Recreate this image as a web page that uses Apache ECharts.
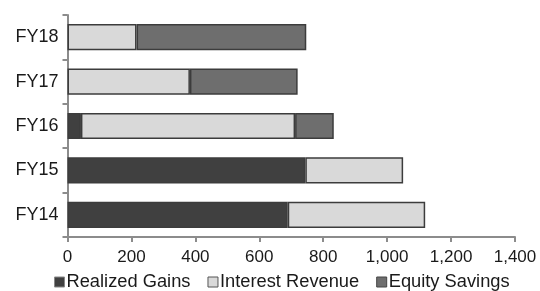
<!DOCTYPE html>
<html>
<head>
<meta charset="utf-8">
<script src="https://cdn.jsdelivr.net/npm/echarts@6/dist/echarts.min.js"></script>
<style>
    html, body { margin: 0; padding: 0; background: #fff; }
    #chart { width: 540px; height: 291px; }
</style>
</head>
<body>
<div id="chart"></div>
<script>
const categories = ['FY14', 'FY15', 'FY16', 'FY17', 'FY18'];
// null = no segment for that year
const realizedGains = [689, 744, 42, null, null];
const interestRevenue = [430, 306, 670, 383, 216];
const equitySavings = [null, null, 121, 337, 531];

const chart = echarts.init(document.getElementById('chart'));

function barSeries(name, data, color) {
    return {
        name: name,
        type: 'bar',
        stack: 'total',
        barCategoryGap: '41%',
        data: data,
        itemStyle: { color: color, borderColor: '#3c3c3c', borderWidth: 1.5 }
    };
}

chart.setOption({
    animation: false,
    textStyle: { fontFamily: 'Liberation Sans, Arial, sans-serif' },
    grid: { left: 67.5, right: 25, top: 15, bottom: 54, containLabel: false },
    legend: {
        top: 273,
        left: 54,
        padding: 0,
        icon: 'rect',
        itemWidth: 10,
        itemHeight: 10,
        itemGap: 17,
        textStyle: { fontSize: 18.3, color: '#1a1a1a', padding: [0, 0, 0, -3] },
        data: [
            { name: 'Realized Gains', itemStyle: { borderColor: '#888', borderWidth: 1 } },
            { name: 'Interest Revenue', itemStyle: { borderColor: '#555', borderWidth: 1 } },
            { name: 'Equity Savings', itemStyle: { borderColor: '#444', borderWidth: 1 } }
        ]
    },
    xAxis: {
        type: 'value',
        min: 0,
        max: 1400,
        interval: 200,
        splitLine: { show: false },
        axisLine: { show: true, lineStyle: { color: '#8c8c8c', width: 2 } },
        axisTick: { show: true, length: 5, lineStyle: { color: '#8c8c8c', width: 2 } },
        axisLabel: {
            fontSize: 17,
            color: '#1a1a1a',
            margin: 12,
            formatter: v => v.toLocaleString('en-US')
        }
    },
    yAxis: {
        type: 'category',
        data: categories,
        axisLine: { show: true, lineStyle: { color: '#8c8c8c', width: 2 } },
        axisTick: { show: true, length: 5, lineStyle: { color: '#8c8c8c', width: 2 } },
        axisLabel: { fontSize: 18, color: '#1a1a1a', margin: 9 }
    },
    series: [
        barSeries('Realized Gains', realizedGains, '#404040'),
        barSeries('Interest Revenue', interestRevenue, '#d9d9d9'),
        barSeries('Equity Savings', equitySavings, '#6e6e6e')
    ]
});
</script>
</body>
</html>
